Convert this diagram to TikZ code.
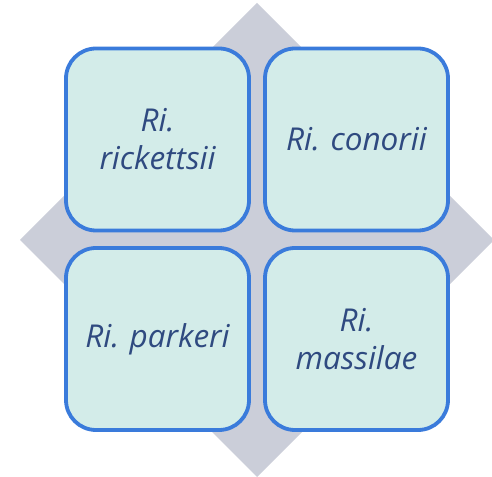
\documentclass[tikz,border=0pt]{standalone}
\usepackage{fontspec}
\setmainfont{Open Sans}
\definecolor{diam}{HTML}{CBCED9}
\definecolor{boxfill}{HTML}{D3ECE9}
\definecolor{boxline}{HTML}{3A7BDB}
\definecolor{txt}{HTML}{2F4A80}
\begin{document}
\frenchspacing
\begin{tikzpicture}[x=1pt,y=1pt,
  cell/.style={draw=boxline, line width=3.8pt, fill=boxfill, rounded corners=30pt,
    minimum width=183pt, minimum height=182pt, inner sep=0pt, align=center,
    text=txt, font=\fontsize{31.5}{38}\selectfont\itshape, text width=175pt}]
\useasboundingbox (0,0) rectangle (492,476);
\fill[diam] (257,473) -- (494,236) -- (257,-1) -- (20,236) -- cycle;
\node[cell] (a) at (157.5,336.5) {Ri.\\rickettsii};
\node[cell] (b) at (356.5,336.5) {Ri. conorii};
\node[cell] (c) at (157.5,137) {Ri. parkeri};
\node[cell] (d) at (356.5,137) {Ri.\\massilae};
\end{tikzpicture}
\end{document}
